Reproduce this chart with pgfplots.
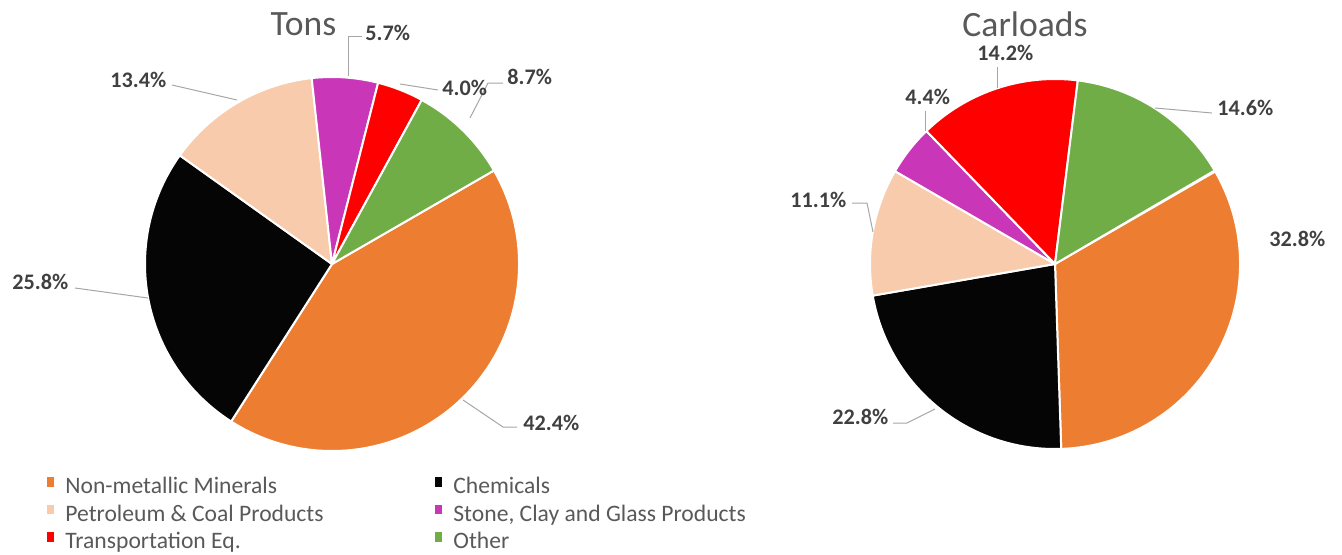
\documentclass[border=0pt]{standalone}
\usepackage{pgfplots}
\usepackage{pgfplotstable}
\pgfplotsset{compat=1.18}
\usepackage{fontspec}
\setmainfont{Carlito}
\definecolor{cOrange}{HTML}{ED7D31}
\definecolor{cBlack}{HTML}{050505}
\definecolor{cPeach}{HTML}{F8CBAD}
\definecolor{cPurple}{HTML}{C936B8}
\definecolor{cRed}{HTML}{FF0000}
\definecolor{cGreen}{HTML}{70AD47}
\definecolor{labgray}{HTML}{404040}
\definecolor{titgray}{HTML}{595959}
\definecolor{leadgray}{HTML}{A6A6A6}

\pgfplotstableread{
pct col
42.4 cOrange
25.8 cBlack
13.4 cPeach
5.7 cPurple
4.0 cRed
8.7 cGreen
}\tonsdata

\pgfplotstableread{
pct col
32.8 cOrange
22.8 cBlack
11.1 cPeach
4.4 cPurple
14.2 cRed
14.6 cGreen
}\carsdata

% cumulative angles (clockwise from 12 o'clock, first slice starting at 60 deg)
\newcommand\piecompute[2]{%
  \def\cum{60}%
  \pgfplotsforeachungrouped \i in {0,1,2,3,4,5}{%
    \pgfplotstablegetelem{\i}{pct}\of#1%
    \let\p\pgfplotsretval
    \pgfplotstablegetelem{\i}{col}\of#1%
    \expandafter\xdef\csname #2c\i\endcsname{\pgfplotsretval}%
    \pgfmathsetmacro\a{90-\cum}%
    \pgfmathsetmacro\b{90-\cum-3.6*\p}%
    \expandafter\xdef\csname #2s\i\endcsname{\a}%
    \expandafter\xdef\csname #2e\i\endcsname{\b}%
    \pgfmathsetmacro\cum{\cum+3.6*\p}%
  }%
}
\newcommand\drawpie[4]{%
  \pgfplotsforeachungrouped \j in {0,1,2,3,4,5}{%
    \edef\tmp{\noexpand\fill[\csname #1c\j\endcsname, draw=white, line width=1pt, line join=round]
      (axis cs:#2,#3) -- ++(\csname #1s\j\endcsname:#4)
      arc[start angle=\csname #1s\j\endcsname, end angle=\csname #1e\j\endcsname, radius=#4] -- cycle;}%
    \tmp
  }%
}

\begin{document}
\begin{tikzpicture}
\piecompute{\tonsdata}{T}
\piecompute{\carsdata}{C}
\begin{axis}[
  scale only axis, width=671pt, height=277pt,
  xmin=0, xmax=1342, ymin=0, ymax=554,
  hide axis, clip=false,
  legend columns=2,
  legend cell align=left,
  legend style={at={(axis cs:47,77)}, anchor=north west, draw=none, fill=none,
    inner sep=0pt, row sep=3.3pt,
    nodes={inner sep=0pt, text height=8pt, text depth=2.3pt},
    font=\fontsize{11.8}{13}\selectfont, text=titgray},
  legend image code/.code={\fill[#1, draw=none] (0pt,0.7pt) rectangle (3.4pt,5.3pt); \path[draw=none, fill=none] (0pt,0pt) -- (9pt,0pt);},
]
\path (axis cs:0,0) rectangle (axis cs:1342,554);
\drawpie{T}{332}{290}{93.5pt}
\drawpie{C}{1055}{290}{92.5pt}

% titles
\node[anchor=base, text=titgray, font=\fontsize{17.8}{20}\selectfont] at (axis cs:303.5,519) {Tons};
\node[anchor=base, text=titgray, font=\fontsize{17.8}{20}\selectfont] at (axis cs:1025,518) {Carloads};

% leader lines
\begin{scope}[leadgray, line width=0.5pt]
\draw (axis cs:362,518) -- (axis cs:348,518) -- (axis cs:348,478);
\draw (axis cs:400,470) -- (axis cs:438,464);
\draw (axis cs:503,471) -- (axis cs:488,471) -- (axis cs:470,436);
\draw (axis cs:172,469) -- (axis cs:237,454);
\draw (axis cs:75,266) -- (axis cs:148,256);
\draw (axis cs:463,154) -- (axis cs:503,127) -- (axis cs:517,127);
\draw (axis cs:997,487) -- (axis cs:997,466);
\draw (axis cs:925,443) -- (axis cs:925,423);
\draw (axis cs:1155,446) -- (axis cs:1212,441);
\draw (axis cs:852,351) -- (axis cs:867,351) -- (axis cs:873,322);
\draw (axis cs:893,131) -- (axis cs:907,131) -- (axis cs:935,145);
\end{scope}

% data labels
\begin{scope}[every node/.style={anchor=west, inner sep=0pt, text=labgray, font=\bfseries\fontsize{11.1}{13}\selectfont}]
\node at (axis cs:365,521) {5.7\%};
\node at (axis cs:442,466) {4.0\%};
\node at (axis cs:507,477) {8.7\%};
\node at (axis cs:110,474) {13.4\%};
\node at (axis cs:12,272) {25.8\%};
\node at (axis cs:523,131) {42.4\%};
\node at (axis cs:977,501) {14.2\%};
\node at (axis cs:905,457) {4.4\%};
\node at (axis cs:1217,446) {14.6\%};
\node at (axis cs:790,354) {11.1\%};
\node at (axis cs:832,137) {22.8\%};
\node at (axis cs:1269,315) {32.8\%};
\end{scope}

\addlegendimage{fill=cOrange}
\addlegendentry{\makebox[185pt][l]{Non-metallic Minerals}}
\addlegendimage{fill=cBlack}
\addlegendentry{Chemicals}
\addlegendimage{fill=cPeach}
\addlegendentry{\makebox[185pt][l]{Petroleum \& Coal Products}}
\addlegendimage{fill=cPurple}
\addlegendentry{Stone, Clay and Glass Products}
\addlegendimage{fill=cRed}
\addlegendentry{\makebox[185pt][l]{Transportation Eq.}}
\addlegendimage{fill=cGreen}
\addlegendentry{Other}
\end{axis}
\end{tikzpicture}
\end{document}
